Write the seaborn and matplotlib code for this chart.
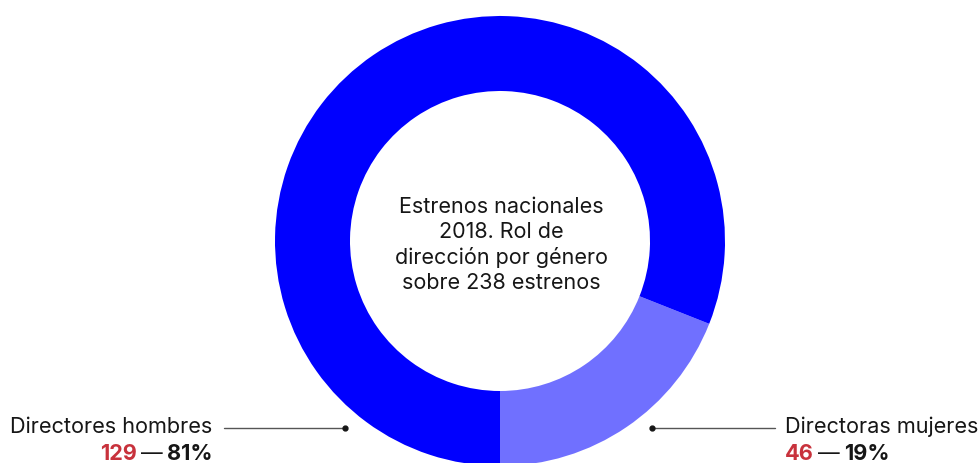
import matplotlib.pyplot as plt
import seaborn as sns

# datos
categorias = ['Directoras mujeres', 'Directores hombres']
cantidades = [46, 129]
porcentajes = [19, 81]
colores = ['#7070ff', '#0000ff']
texto_centro = 'Estrenos nacionales\n2018. Rol de\ndirección por género\nsobre 238 estrenos'

sns.set_theme(style='white')
plt.rcParams['font.family'] = ['Inter', 'DejaVu Sans']

fig = plt.figure(figsize=(9.8, 4.63), dpi=100)
ax = fig.add_axes([0, 0, 1, 1])

# dona (empieza abajo y va en sentido antihorario)
ax.pie(porcentajes, colors=colores, startangle=270, counterclock=True,
       center=(500, 222), radius=225, frame=True,
       wedgeprops=dict(width=75, linewidth=0))
ax.set_xlim(0, 980)
ax.set_ylim(0, 463)
ax.axis('off')

ax.text(501, 218, texto_centro, ha='center', va='center', fontsize=15.5,
        color='#161616', linespacing=1.3)

ROJO = '#c8323c'
fig.canvas.draw()
r = fig.canvas.get_renderer()

def linea(x0, x1, xdot):
    ax.plot([x0, x1], [35, 35], color='#555555', lw=1)
    ax.plot([xdot], [35], 'o', color='#161616', ms=3.5)

FS = 15.6
YB = 3  # linea base de los numeros

# etiqueta izquierda: hombres
linea(224, 345, 345)
ax.text(212, 36, categorias[1], ha='right', va='center', fontsize=FS, color='#161616')
t = ax.text(212, YB, f'{porcentajes[1]}%', ha='right', va='baseline', fontsize=FS,
            fontweight='bold', color='#161616')
x = ax.transData.inverted().transform(t.get_window_extent(r))[0][0]
t = ax.text(x - 4, YB, '—', ha='right', va='baseline', fontsize=FS, color='#161616')
x = ax.transData.inverted().transform(t.get_window_extent(r))[0][0]
ax.text(x - 4, YB, str(cantidades[1]), ha='right', va='baseline', fontsize=FS,
        fontweight='bold', color=ROJO)

# etiqueta derecha: mujeres
linea(652, 775, 652)
ax.text(785, 36, categorias[0], ha='left', va='center', fontsize=FS, color='#161616')
t = ax.text(785, YB, str(cantidades[0]), ha='left', va='baseline', fontsize=FS,
            fontweight='bold', color=ROJO)
x = ax.transData.inverted().transform(t.get_window_extent(r))[1][0]
t = ax.text(x + 4, YB, '—', ha='left', va='baseline', fontsize=FS, color='#161616')
x = ax.transData.inverted().transform(t.get_window_extent(r))[1][0]
ax.text(x + 4, YB, f'{porcentajes[0]}%', ha='left', va='baseline', fontsize=FS,
        fontweight='bold', color='#161616')

fig.savefig('out.png', dpi=100)
